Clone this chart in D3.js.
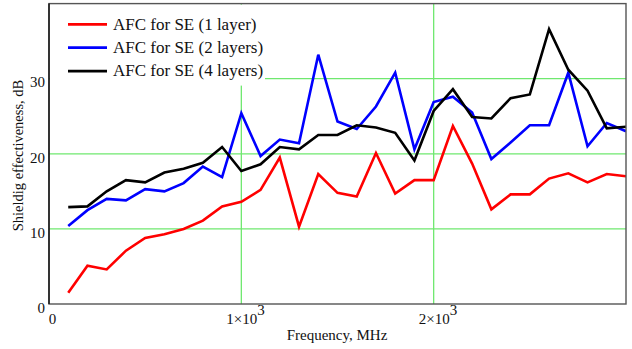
<!DOCTYPE html>
<html>
<head>
<meta charset="utf-8">
<script src="https://cdn.jsdelivr.net/npm/d3@7"></script>
<style>
  body { margin: 0; background: #fff; }
  svg { display: block; font-family: "Liberation Serif", "Times New Roman", serif; }
</style>
</head>
<body>
<div id="chart"></div>
<script>
// frequency points, MHz
var freq = [100, 200, 300, 400, 500, 600, 700, 800, 900, 1000,
            1100, 1200, 1300, 1400, 1500, 1600, 1700, 1800, 1900, 2000,
            2100, 2200, 2300, 2400, 2500, 2600, 2700, 2800, 2900, 3000];

// shielding effectiveness, dB
var se1 = [1.5, 5.1, 4.6, 7.1, 8.8, 9.3, 10.0, 11.1, 13.0, 13.6,
           15.2, 19.5, 10.3, 17.3, 14.8, 14.3, 20.1, 14.7, 16.5, 16.5,
           23.7, 18.7, 12.6, 14.6, 14.6, 16.7, 17.4, 16.2, 17.3, 17.0];
var se2 = [10.4, 12.5, 14.0, 13.8, 15.3, 15.0, 16.1, 18.3, 16.9, 25.4,
           19.7, 21.9, 21.4, 33.2, 24.3, 23.3, 26.3, 30.8, 20.6, 26.9,
           27.6, 25.5, 19.3, 21.5, 23.8, 23.8, 30.8, 21.0, 24.1, 23.0];
var se4 = [12.9, 13.0, 15.0, 16.5, 16.2, 17.5, 18.0, 18.8, 20.9, 17.7,
           18.6, 20.9, 20.6, 22.5, 22.5, 23.8, 23.5, 22.8, 19.1, 25.7,
           28.6, 24.9, 24.7, 27.4, 27.9, 36.6, 31.2, 28.4, 23.4, 23.6];

var seriesNames = ["AFC for SE (1 layer)", "AFC for SE (2 layers)", "AFC for SE (4 layers)"];
var seriesColors = ["#ff0000", "#0000ff", "#000000"];
var xTicks = [0, 1000, 2000];
var yTicks = [0, 10, 20, 30];
var xGrid = [1000, 2000];
var yGrid = [10, 20, 30];

function drawChart() {
   var width = 632, height = 349;
   var pl = 49, pr = 626, pt = 3.6, pb = 304;

   var svg = d3.select("#chart").append("svg")
      .attr("width", width)
      .attr("height", height);

   var x = d3.scaleLinear().domain([0, 3000]).range([pl, pr]);
   var y = d3.scaleLinear().domain([0, 40]).range([pb, pt]);

   // grid
   var grid = svg.append("g").attr("stroke", "#6fe86f").attr("stroke-width", 1.3);
   grid.selectAll(".gx").data(xGrid).enter().append("line")
      .attr("x1", function(d) {return x(d)}).attr("x2", function(d) {return x(d)})
      .attr("y1", pt).attr("y2", pb);
   grid.selectAll(".gy").data(yGrid).enter().append("line")
      .attr("x1", pl).attr("x2", pr)
      .attr("y1", function(d) {return y(d)}).attr("y2", function(d) {return y(d)});

   // legend background hides the grid behind it
   svg.append("rect")
      .attr("x", pl + 1).attr("y", pt + 1)
      .attr("width", 215).attr("height", 81)
      .attr("fill", "#fff");

   // lines
   var data = [se1, se2, se4];
   var line = d3.line()
      .x(function(d, i) {return x(freq[i])})
      .y(function(d) {return y(d)});

   svg.append("defs").append("clipPath").attr("id", "clip")
      .append("rect").attr("x", pl).attr("y", pt).attr("width", pr - pl).attr("height", pb - pt);

   svg.append("g").attr("clip-path", "url(#clip)")
      .selectAll(".series").data(data).enter().append("path")
      .attr("class", "series")
      .attr("d", line)
      .attr("fill", "none")
      .attr("stroke", function(d, i) {return seriesColors[i]})
      .attr("stroke-width", 2.6)
      .attr("stroke-linejoin", "miter");

   // frame
   svg.append("rect")
      .attr("x", pl).attr("y", pt)
      .attr("width", pr - pl).attr("height", pb - pt)
      .attr("fill", "none").attr("stroke", "#555").attr("stroke-width", 1.4);
   svg.append("line")
      .attr("x1", pl).attr("x2", pl).attr("y1", pt).attr("y2", pb)
      .attr("stroke", "#111").attr("stroke-width", 1.4);

   // y axis
   var yAxis = svg.append("g")
      .attr("transform", "translate(" + pl + ",0)")
      .call(d3.axisLeft(y).tickValues(yTicks).tickSize(0).tickPadding(4).tickFormat(d3.format("d")));
   yAxis.select(".domain").remove();
   yAxis.selectAll("text")
      .attr("font-family", "Liberation Serif")
      .attr("font-size", 15)
      .attr("fill", "#111")
      .attr("dy", "0.55em");

   // x axis
   var xAxis = svg.append("g")
      .attr("transform", "translate(0," + pb + ")")
      .call(d3.axisBottom(x).tickValues(xTicks).tickSize(0).tickPadding(0).tickFormat(""));
   xAxis.select(".domain").remove();
   xAxis.selectAll(".tick").each(function(d) {
      var t = d3.select(this).append("text")
         .attr("y", 20)
         .attr("font-family", "Liberation Serif")
         .attr("font-size", 15)
         .attr("fill", "#111");
      if (d === 0) {
         t.attr("x", 3).attr("text-anchor", "middle").text("0");
      } else {
         t.attr("text-anchor", "start").attr("x", -15.5);
         t.append("tspan").text((d / 1000) + "\u00d710");
         t.append("tspan").attr("dy", -9).text("3");
      }
   });

   // axis titles
   svg.append("text")
      .attr("x", 337).attr("y", 340)
      .attr("text-anchor", "middle")
      .attr("font-size", 15)
      .attr("fill", "#111")
      .text("Frequency, MHz");

   svg.append("text")
      .attr("transform", "translate(23,155.5) rotate(-90)")
      .attr("text-anchor", "middle")
      .attr("font-size", 14.5)
      .attr("fill", "#111")
      .text("Shieldig effectiveness, dB");

   // legend
   var legend = svg.append("g").selectAll(".leg").data(seriesNames).enter().append("g")
      .attr("transform", function(d, i) {return "translate(0," + (24.3 + i * 23.4) + ")"});
   legend.append("line")
      .attr("x1", 68).attr("x2", 107)
      .attr("stroke", function(d, i) {return seriesColors[i]})
      .attr("stroke-width", 2.8);
   legend.append("text")
      .attr("x", 113).attr("y", 5.2)
      .attr("font-size", 17)
      .attr("fill", "#111")
      .text(function(d) {return d});
}

drawChart();
</script>
</body>
</html>
